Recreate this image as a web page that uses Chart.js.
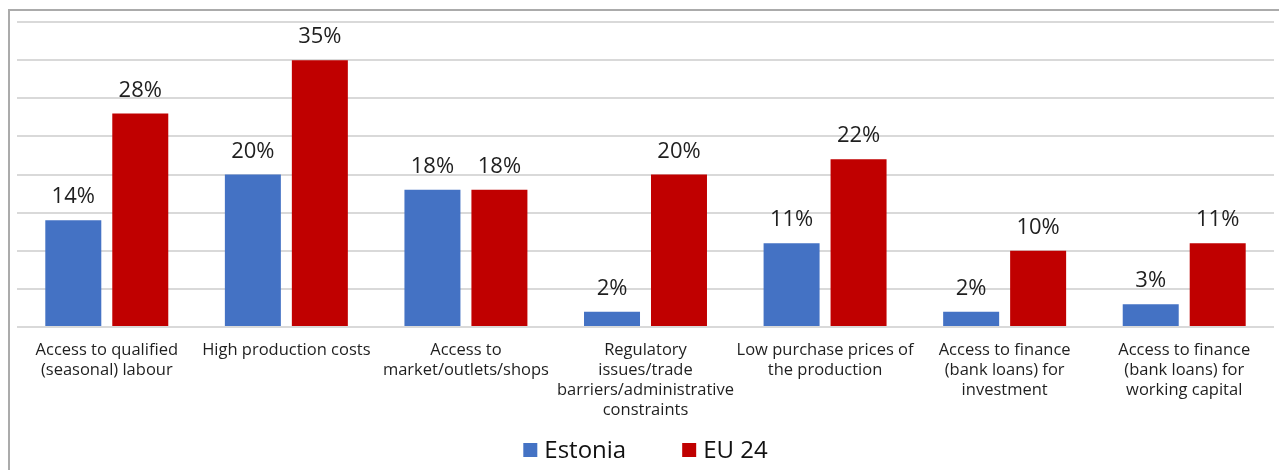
<!DOCTYPE html>
<html>
<head>
<meta charset="utf-8">
<script src="https://cdn.jsdelivr.net/npm/chart.js@4/dist/chart.umd.min.js"></script>
<style>
  html, body { margin: 0; padding: 0; background: #fff; }
  #wrap { position: relative; width: 1279px; height: 470px; overflow: hidden; }
  #frame {
    position: absolute; left: 8px; top: 9px; right: -4px; bottom: -4px;
    border-left: 2px solid #ababab; border-top: 2px solid #ababab;
  }
  canvas { position: absolute; left: 0; top: 0; }
</style>
</head>
<body>
<div id="wrap">
  <div id="frame"></div>
  <canvas id="obstacles" width="1279" height="470"></canvas>
</div>
<script>
// Catégories (libellés sur plusieurs lignes)
const categories = [
    ['Access to qualified', '(seasonal) labour'],
    ['High production costs'],
    ['Access to', 'market/outlets/shops'],
    ['Regulatory', 'issues/trade', 'barriers/administrative', 'constraints'],
    ['Low purchase prices of', 'the production'],
    ['Access to finance', '(bank loans) for', 'investment'],
    ['Access to finance', '(bank loans) for', 'working capital']
];

// Pourcentages par série
const estonia = [14, 20, 18, 2, 11, 2, 3];
const eu24 = [28, 35, 18, 20, 22, 10, 11];

const fontFamily = '"Open Sans", "Noto Sans", sans-serif';

// Valeur au-dessus de chaque barre
const valueLabels = {
    id: 'valueLabels',
    afterDatasetsDraw(chart) {
        const ctx = chart.ctx;
        ctx.save();
        ctx.font = '22px ' + fontFamily;
        ctx.fillStyle = '#1f1f1f';
        ctx.textAlign = 'center';
        ctx.textBaseline = 'alphabetic';
        chart.data.datasets.forEach((ds, i) => {
            chart.getDatasetMeta(i).data.forEach((bar, j) => {
                ctx.fillText(ds.data[j] + '%', bar.x, bar.y - 17);
            });
        });
        ctx.restore();
    }
};

// Légende dessinée à la main (plus compacte que celle de Chart.js)
const bottomLegend = {
    id: 'bottomLegend',
    afterDraw(chart) {
        const ctx = chart.ctx;
        const box = 14, gapText = 7, gapItem = 56, cy = 450;
        ctx.save();
        ctx.font = '24px ' + fontFamily;
        ctx.textBaseline = 'middle';
        const items = chart.data.datasets.map(ds => ({
            text: ds.label,
            color: ds.backgroundColor,
            w: box + gapText + ctx.measureText(ds.label).width
        }));
        const total = items.reduce((s, it) => s + it.w, 0) + gapItem * (items.length - 1);
        let x = (chart.chartArea.left + chart.chartArea.right) / 2 - total / 2;
        items.forEach(it => {
            ctx.fillStyle = it.color;
            ctx.fillRect(x, cy - box / 2, box, box);
            ctx.fillStyle = '#111';
            ctx.fillText(it.text, x + box + gapText, cy + 1);
            x += it.w + gapItem;
        });
        ctx.restore();
    }
};

new Chart(document.getElementById('obstacles').getContext('2d'), {
    type: 'bar',
    data: {
        labels: categories,
        datasets: [{
            label: 'Estonia',
            data: estonia,
            backgroundColor: '#4472c4'
        }, {
            label: 'EU 24',
            data: eu24,
            backgroundColor: '#c00000'
        }]
    },
    options: {
        responsive: false,
        animation: false,
        datasets: {
            bar: {
                categoryPercentage: 0.746,
                barPercentage: 0.836
            }
        },
        layout: {
            padding: { left: 17, right: 5, top: 22, bottom: 37 }
        },
        scales: {
            x: {
                grid: { display: false, drawTicks: false },
                border: { display: false },
                ticks: {
                    color: '#1f1f1f',
                    padding: 13,
                    maxRotation: 0,
                    autoSkip: false,
                    font: { family: fontFamily, size: 16.5, lineHeight: '20px' }
                }
            },
            y: {
                min: 0,
                max: 40,
                ticks: { display: false, stepSize: 5 },
                border: { display: false },
                grid: { color: '#d9d9d9', lineWidth: 2, drawTicks: false }
            }
        },
        plugins: {
            tooltip: { enabled: false },
            legend: { display: false }
        }
    },
    plugins: [valueLabels, bottomLegend]
});
</script>
</body>
</html>
